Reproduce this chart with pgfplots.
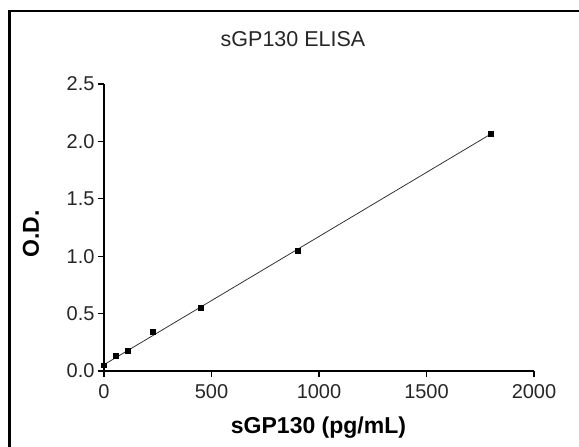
\documentclass[border=0pt]{standalone}
\usepackage{pgfplots}
\pgfplotsset{compat=1.18}
\usepackage{fontspec}
\setmainfont{Liberation Sans}

\pgfplotstableread{
conc od
0    0.05
55   0.13
110  0.18
225  0.34
450  0.55
900  1.05
1800 2.07
}\standards

\begin{document}
\begin{tikzpicture}
\useasboundingbox (-104pt,-76pt) rectangle (475pt,371pt);
\draw[line width=2.5pt] (-94.5pt,-80pt) -- (-94.5pt,360pt) -- (480pt,360pt);
\begin{axis}[
    at={(0,0)}, anchor=south west,
    scale only axis,
    width=430pt, height=287pt,
    xmin=0, xmax=2000,
    ymin=0, ymax=2.5,
    axis lines=left,
    axis line style={line width=1.3pt, -},
    xtick={0,500,1000,1500,2000},
    ytick={0,0.5,1,1.5,2,2.5},
    yticklabel style={/pgf/number format/.cd, fixed, fixed zerofill, precision=1},
    xticklabel style={yshift=-4pt, /pgf/number format/.cd, fixed, 1000 sep={}},
    /pgf/number format/assume math mode=true,
    tick align=outside,
    major tick length=6pt,
    tick style={line width=1.3pt, black},
    ticklabel style={font=\fontsize{20}{22}\selectfont, color=black!85},
    xtick pos=bottom, ytick pos=left,
    clip=false,
]
\addplot[only marks, mark=square*, mark size=2.4pt, black] table[x=conc, y=od] {\standards};
\addplot[no marks, line width=0.8pt, black!80] coordinates {(0,0.055) (1800,2.065)};
\end{axis}
\node[font=\fontsize{21.5}{24}\selectfont, text=black!85] at (189pt,332pt) {sGP130 ELISA};
\node[font=\fontsize{23}{26}\selectfont\bfseries] at (214.5pt,-57pt) {sGP130 (pg/mL)};
\node[font=\fontsize{23}{26}\selectfont\bfseries, rotate=90] at (-73pt,137pt) {O.D.};
\end{tikzpicture}
\end{document}
